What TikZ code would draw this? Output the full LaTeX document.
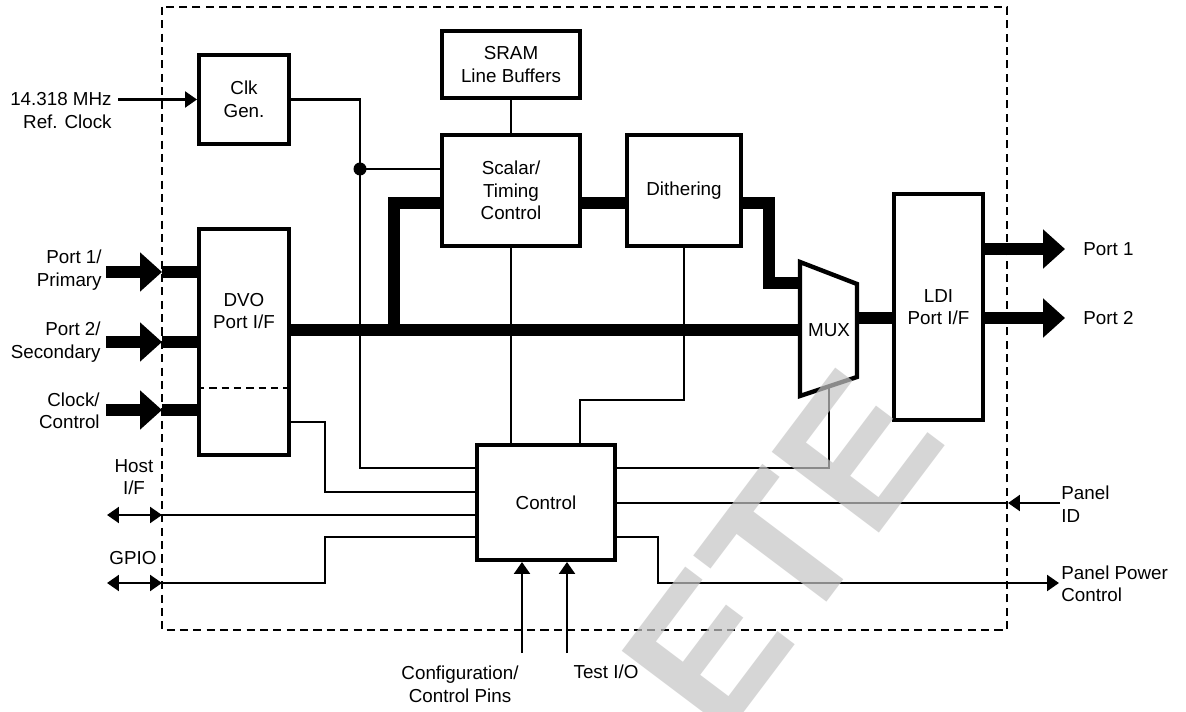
\documentclass[tikz,border=0pt]{standalone}
\usepackage{fontspec}
\setmainfont{Liberation Sans}
\usetikzlibrary{arrows.meta}
\newcommand\lblfont{\fontsize{10.7pt}{12.8pt}\selectfont}
\newcommand\wmfont{\fontsize{111pt}{111pt}\selectfont\bfseries}
\definecolor{wmgray}{RGB}{197,197,197}
\tikzset{
  blk/.style={draw, line width=2.5pt, inner sep=0pt, align=center, font=\lblfont},
  sig/.style={line width=1.5pt},
  bus/.style={line width=6.4pt},
  lbl/.style={inner sep=0pt, font=\lblfont},
  border/.style={line width=1.4pt, dash pattern=on 4.6pt off 3pt},
  stip/.tip={Triangle[length=6.8pt,width=9pt]},
  btip/.tip={Triangle[length=12.5pt,width=21.6pt]},
}
\begin{document}
\begin{tikzpicture}[x=0.02cm, y=-0.02cm]
\useasboundingbox (0,0) rectangle (1186,712);
\fill[white] (0,0) rectangle (1186,712);

% outer dashed boundary
\draw[border] (162,7) rectangle (1007,630);

% blocks
\node[blk, minimum width=1.792cm, minimum height=1.772cm] (clk) at (244,99.5) {Clk\\Gen.};
\node[blk, minimum width=2.752cm, minimum height=1.332cm] (sram) at (511,64.5) {SRAM\\Line Buffers};
\node[blk, minimum width=2.752cm, minimum height=2.212cm] (scal) at (511,190.5) {Scalar/\\Timing\\Control};
\node[blk, minimum width=2.272cm, minimum height=2.212cm] (dith) at (684,190.5) {Dithering};
\node[blk, minimum width=1.792cm, minimum height=4.512cm] (dvo) at (244,342) {};
\node[lbl, align=center] (dvolbl) at (244,311) {DVO\\Port I/F};
\draw[sig, dash pattern=on 4.2pt off 2.8pt] (dvo.west |- 0,388) -- (dvo.east |- 0,388);
\node[blk, minimum width=1.772cm, minimum height=4.512cm] (ldi) at (938.5,307) {LDI\\Port I/F};
\node[blk, minimum width=2.752cm, minimum height=2.292cm] (ctrl) at (546,502.5) {Control};

% MUX trapezoid
\coordinate (muxTL) at (800,262);
\coordinate (muxTR) at (857,284);
\coordinate (muxBR) at (857,377);
\coordinate (muxBL) at (800,396);
\draw[line width=2.5pt, line join=miter] (muxTL) -- (muxTR) -- (muxBR) -- (muxBL) -- cycle;
\node[lbl] (muxlbl) at (829,330) {MUX};
\coordinate (muxin1) at (800,283);
\coordinate (muxin2) at (800,330);
\coordinate (muxout) at (857,318);
\coordinate (muxsel) at (829,386);

% reference clock
\node[lbl, align=right, anchor=east] (refclk) at (112,110.5) {14.318 MHz\\Ref. Clock};
\coordinate (refin) at (118,99.5);
\draw[sig, -stip] (refin) -- (clk.west);

% clock distribution
\coordinate (clkj) at (360,169);
\draw[sig] (clk.east) -| (clkj) |- (ctrl.west |- 0,468);
\draw[sig] (clkj) -- (scal.west |- clkj);
\fill (clkj) circle[radius=0.13cm];

% SRAM to scalar
\draw[sig] (sram.south) -- (scal.north);

% data buses
\coordinate (busj) at (394,330);
\draw[bus, line join=miter] (scal.west |- 0,203) -| (busj);
\draw[bus] (scal.east |- 0,203) -- (dith.west |- 0,203);
\draw[bus] (dvo.east |- 0,330) -- (muxin2);
\draw[bus, line join=miter] (dith.east |- 0,203) -| (769,283) -- (muxin1);
\draw[bus] (muxout) -- (ldi.west |- muxout);

% LDI outputs
\coordinate (p1out) at (1065,249);
\coordinate (p2out) at (1065,318);
\draw[bus, -btip] (ldi.east |- p1out) -- (p1out);
\draw[bus, -btip] (ldi.east |- p2out) -- (p2out);
\node[lbl, anchor=west] (port1lbl) at (1083,249) {Port 1};
\node[lbl, anchor=west] (port2lbl) at (1083,318) {Port 2};

% DVO inputs
\coordinate (in1s) at (106,272); \coordinate (in1t) at (162,272);
\coordinate (in2s) at (106,342); \coordinate (in2t) at (162,342);
\coordinate (in3s) at (106,410); \coordinate (in3t) at (162,410);
\draw[bus, -btip] (in1s) -- (in1t);
\draw[bus] (in1t) -- (dvo.west |- in1t);
\draw[bus, -btip] (in2s) -- (in2t);
\draw[bus] (in2t) -- (dvo.west |- in2t);
\draw[bus, -btip] (in3s) -- (in3t);
\draw[bus] (in3t) -- (dvo.west |- in3t);
\node[lbl, align=right, anchor=east] (p1lbl) at (102,270) {Port 1/\\Primary};
\node[lbl, align=right, anchor=east] (p2lbl) at (101,342) {Port 2/\\Secondary};
\node[lbl, align=right, anchor=east] (cclbl) at (100,411) {Clock/\\Control};

% DVO control to Control
\draw[sig] (dvo.east |- 0,422) -| (325,492) -- (ctrl.west |- 0,492);

% Host I/F
\node[lbl, align=center] (hostlbl) at (134,477) {Host\\I/F};
\coordinate (hostL) at (107,515);
\coordinate (hostM) at (162,515);
\draw[sig, stip-stip] (hostL) -- (hostM);
\draw[sig] (hostM) -- (ctrl.west |- hostM);

% GPIO
\node[lbl] (gpiolbl) at (133,558) {GPIO};
\coordinate (gpioL) at (107,583);
\coordinate (gpioM) at (162,583);
\draw[sig, stip-stip] (gpioL) -- (gpioM);
\draw[sig] (gpioM) -| (325,537) -- (ctrl.west |- 0,537);

% Control top connections
\draw[sig] (scal.south) -- (scal.south |- ctrl.north);
\draw[sig] (dith.south) |- (580,400) -- (580,400 |- ctrl.north);

% Control right connections
\draw[sig] (ctrl.east |- 0,468) -| (muxsel);
\coordinate (pidR) at (1060,503);
\coordinate (pidM) at (1008,503);
\draw[sig, -stip] (pidR) -- (pidM);
\draw[sig] (pidM) -- (ctrl.east |- pidM);
\node[lbl, anchor=west, align=left] (pidlbl) at (1061,504) {Panel\\ID};
\coordinate (ppR) at (1059,583);
\draw[sig, -stip] (ctrl.east |- 0,537) -| (658,583) -- (ppR);
\node[lbl, anchor=west, align=left] (pplbl) at (1061,584) {Panel Power\\Control};

% Control bottom inputs
\coordinate (cfgB) at (522,653);
\coordinate (tstB) at (567,653);
\draw[sig, -stip] (cfgB) -- (cfgB |- ctrl.south);
\draw[sig, -stip] (tstB) -- (tstB |- ctrl.south);
\node[lbl, align=center] (cfglbl) at (460,684.5) {Configuration/\\Control Pins};
\node[lbl] (testlbl) at (606,672) {Test I/O};

% watermark
\node[inner sep=0pt, rotate=53, text=wmgray, opacity=0.7, font=\wmfont] (wm) at (782,551) {ETE};
\end{tikzpicture}
\end{document}
